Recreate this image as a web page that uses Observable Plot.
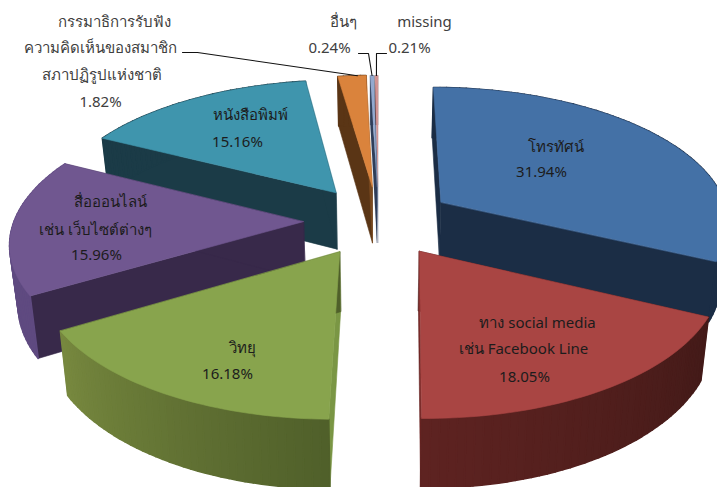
<!DOCTYPE html>
<html><head><meta charset="utf-8">
<style>html,body{margin:0;padding:0;background:#fff}svg{display:block}</style>
<script src="https://cdn.jsdelivr.net/npm/d3@7"></script>
<script src="https://cdn.jsdelivr.net/npm/@observablehq/plot@0.6"></script>
</head><body><script>
// ---- data ----
const categories = ["โทรทัศน์","ทาง social media เช่น Facebook Line","วิทยุ","สื่อออนไลน์ เช่น เว็บไซต์ต่างๆ","หนังสือพิมพ์","กรรมาธิการรับฟังความคิดเห็นของสมาชิกสภาปฏิรูปแห่งชาติ","อื่นๆ","missing"];
const shares = [31.94,18.05,16.18,15.96,15.16,1.82,0.24,0.21];
const shareLabels = ["31.94%","18.05%","16.18%","15.96%","15.16%","1.82%","0.24%","0.21%"];
const labelLines = [
  ["โทรทัศน์"],
  ["ทาง social media","เช่น Facebook Line"],
  ["วิทยุ"],
  ["สื่อออนไลน์","เช่น เว็บไซต์ต่างๆ"],
  ["หนังสือพิมพ์"],
  ["กรรมาธิการรับฟัง","ความคิดเห็นของสมาชิก","สภาปฏิรูปแห่งชาติ"],
  ["อื่นๆ"],
  ["missing"]
];
// ---- styling ----
const topColors  = ["#4471a6","#a94543","#88a44d","#705790","#3f95ad","#da833c","#93a9cf","#d19392"];
const wallFrom   = ["#1b2d45","#431a18","#4f5f2a","#5f4a80","#1b3b47","#5a3515","#2f3d58","#5c3a3a"];
const wallTo     = ["#1b2d45","#5e2321","#77893f","#5f4a80","#1b3b47","#5a3515","#2f3d58","#5c3a3a"];
const cutStart   = ["#1b2d45","#431a18","#7a9644","#38294a","#1b3b47","#5a3515","#2f3d58","#6d7f9c"];
const cutEnd     = ["#1b2d45","#6a2422","#4f5f2a","#38294a","#1b3b47","#7a4a20","#2f3d58","#9a9aa6"];
const paintOrder = [7,6,5,4,0,3,2,1];
// text placement: [x, y] per line, shares last
const labelPlaces = [
  [[555,147],[541,172]],
  [[537,323],[523,349],[524,377]],
  [[242,348],[227,374]],
  [[110,202],[95,230],[96,255]],
  [[250,115],[237,142]],
  [[114,22],[100,48],[101,75],[100,102]],
  [[343,22],[329,48]],
  [[424,22],[409,48]]
];
const leaderStarts = {5:[[182,52],[197,52]],6:[[358,53],[368,53]],7:[[386,53],[376,53]]};
// ---- pie model ----
const W=717,H=487,cx=378,cy=220,Rx=289,Ry=135,depth=58,explode=0.26,persp=0.137,shrink=0.023;
const total=d3.sum(shares), rad=Math.PI/180;
const ends=d3.cumsum(shares).map(v=>v/total*360);
const starts=ends.map((_,i)=>i?ends[i-1]:0);
function project(i,a,r,lev){
  const b=(starts[i]+ends[i])/2*rad, t=a*rad;
  const X=explode*Math.sin(b)+r*Math.sin(t), Z=-explode*Math.cos(b)-r*Math.cos(t);
  const s=1/(1-persp*Z);
  return {x:cx+Rx*X*s*(1-shrink*lev), y:cy+Ry*Z*s+depth*s*lev};
}
const faces=[]; let fid=0;
const face=(pts,c,w)=>{const id=fid++; pts.forEach(p=>faces.push({x:p.x,y:p.y,id,c,w}));};
for(const i of paintOrder){
  const thin=i>=6?0.15:0.6;
  const a0=starts[i],a1=ends[i],steps=Math.max(2,Math.ceil((a1-a0)/1.5));
  const as=d3.range(steps+1).map(k=>a0+(a1-a0)*k/steps);
  face([project(i,a0,0,0),project(i,a0,1,0),project(i,a0,1,1),project(i,a0,0,1)],cutStart[i],thin);
  face([project(i,a1,0,0),project(i,a1,1,0),project(i,a1,1,1),project(i,a1,0,1)],cutEnd[i],thin);
  const mix=d3.interpolateRgb(wallFrom[i],wallTo[i]);
  for(let k=0;k<steps;k++){
    face([project(i,as[k],1,0),project(i,as[k+1],1,0),project(i,as[k+1],1,1),project(i,as[k],1,1)],mix((k+.5)/steps),i>=6?0.15:1.6);
  }
  face([project(i,a0,0,0),...as.map(a=>project(i,a,1,0))],topColors[i],thin);
}
const texts=labelPlaces.flatMap((pl,i)=>{
  const lines=[...labelLines[i],shareLabels[i]];
  return lines.map((t,j)=>({t,x:pl[j][0],y:pl[j][1],c:i>=5?"#404040":"#1c1c1c"}));
});
const leaders=Object.entries(leaderStarts).flatMap(([k,st])=>{
  const i=+k, end=project(i,i==5?(starts[i]*.3+ends[i]*.7):(starts[i]+ends[i])/2,1,0);
  return [...st.map(p=>({x:p[0],y:p[1],k})),{x:end.x,y:end.y,k}];
});
document.body.append(Plot.plot({
  width:W,height:H,margin:0,
  x:{domain:[0,W],range:[0,W],axis:null},
  y:{domain:[0,H],range:[0,H],axis:null},
  color:{type:"identity"},
  style:{background:"#fff"},
  marks:[
    Plot.line(faces,{x:"x",y:"y",z:"id",fill:d=>d.c,stroke:d=>d.c,strokeWidth:d=>d.w,curve:"linear-closed"}),
    Plot.line(leaders,{x:"x",y:"y",z:"k",stroke:"#111",strokeWidth:1.1}),
    Plot.text(texts,{x:"x",y:"y",text:"t",fill:d=>d.c,fontSize:15,lineAnchor:"middle",textAnchor:"middle",fontFamily:"'Noto Sans','DejaVu Sans',sans-serif"})
  ]
}));
</script></body></html>
